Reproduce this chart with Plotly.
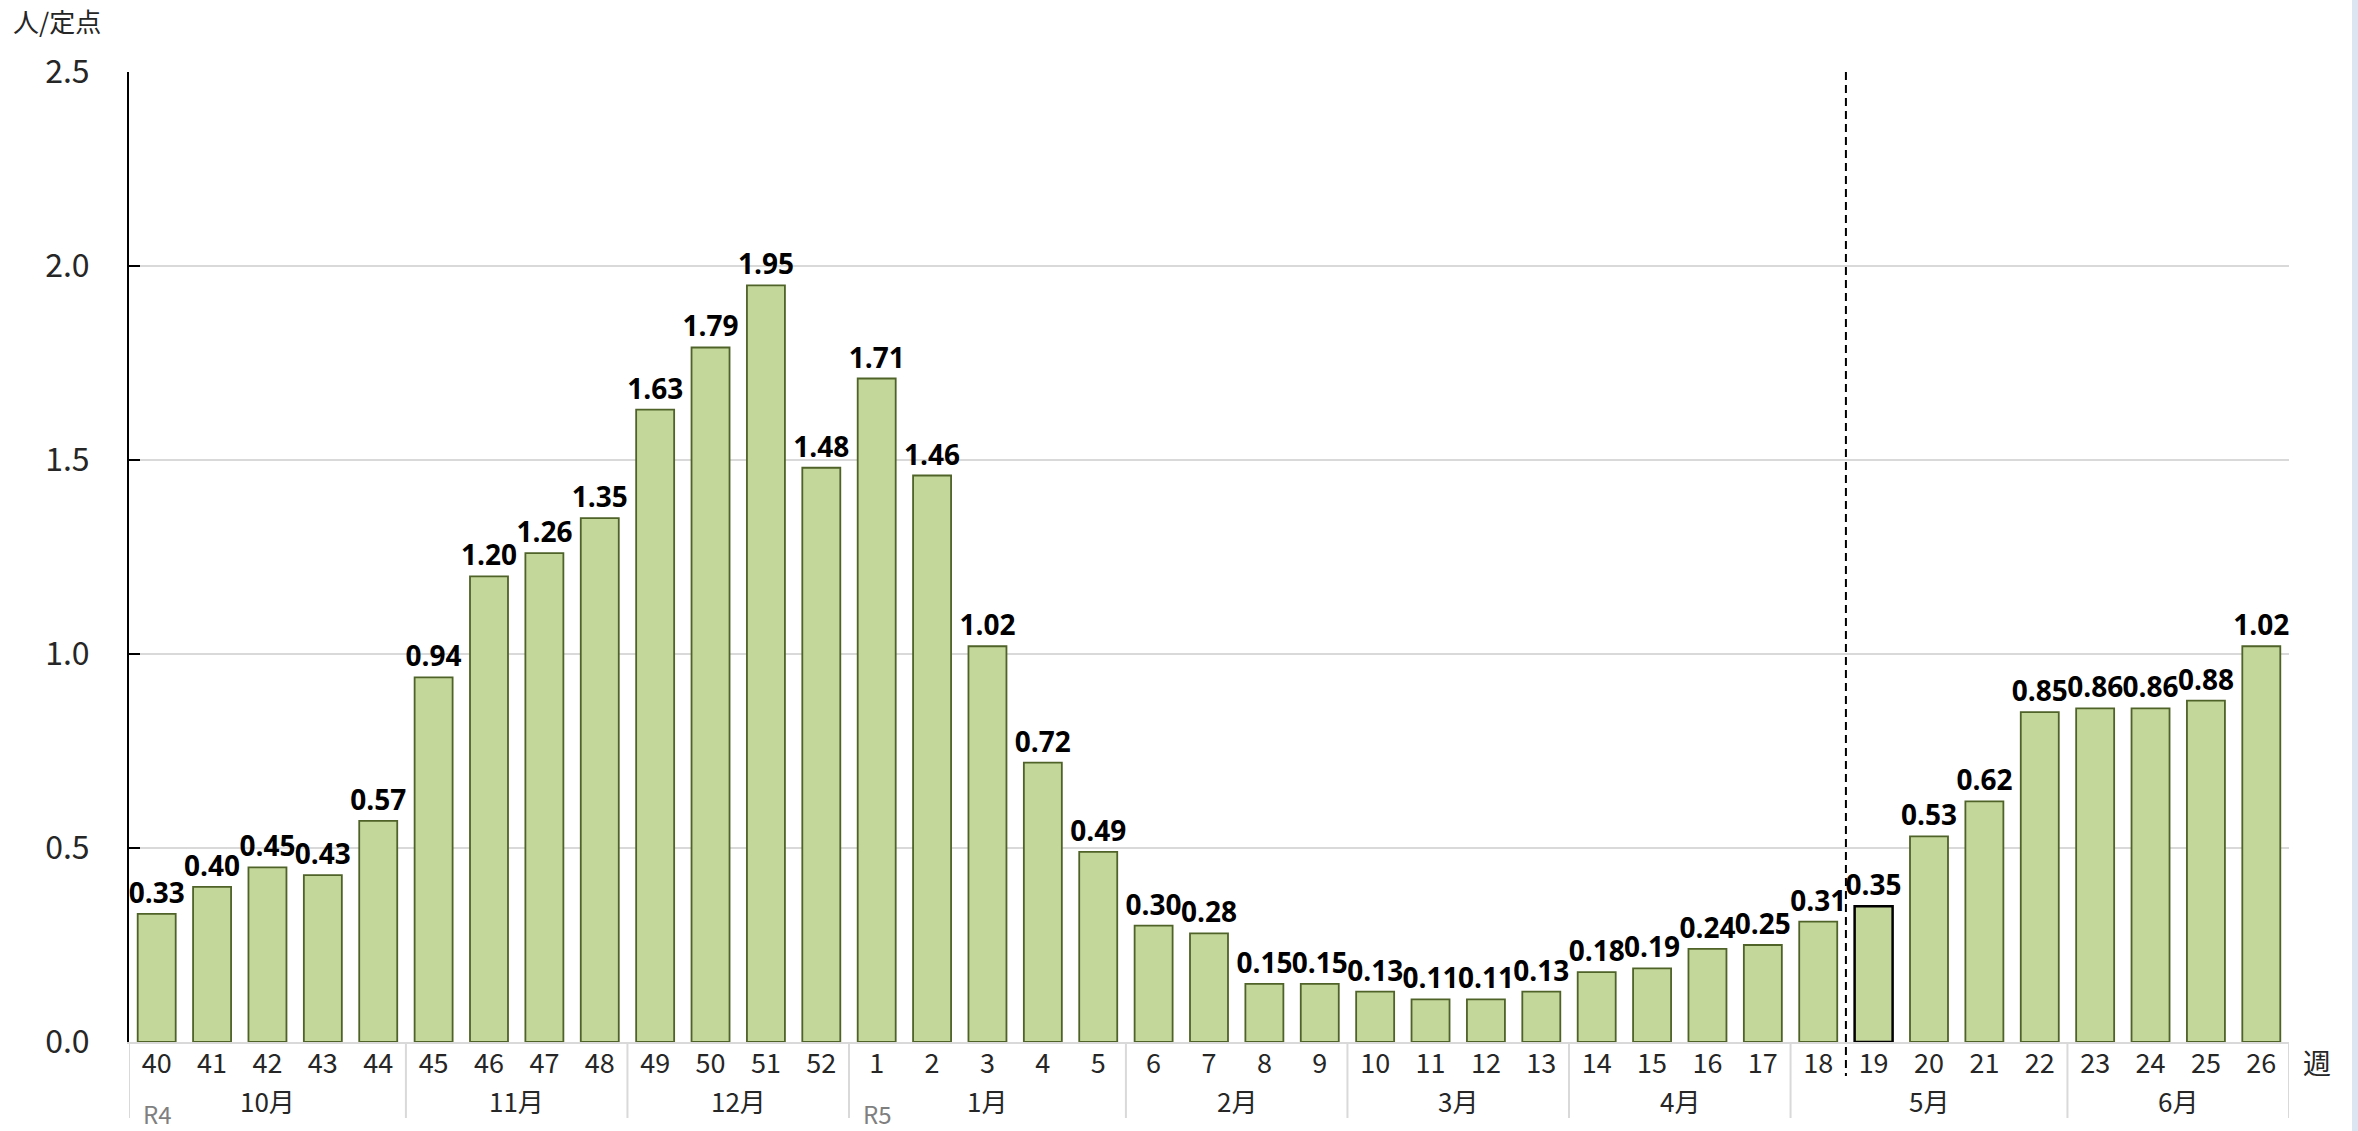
import plotly.graph_objects as go

weeks = ["40", "41", "42", "43", "44", "45", "46", "47", "48", "49", "50", "51", "52",
         "1", "2", "3", "4", "5", "6", "7", "8", "9", "10", "11", "12", "13",
         "14", "15", "16", "17", "18", "19", "20", "21", "22", "23", "24", "25", "26"]
values = [0.33, 0.40, 0.45, 0.43, 0.57, 0.94, 1.20, 1.26, 1.35, 1.63, 1.79, 1.95, 1.48,
          1.71, 1.46, 1.02, 0.72, 0.49, 0.30, 0.28, 0.15, 0.15, 0.13, 0.11, 0.11, 0.13,
          0.18, 0.19, 0.24, 0.25, 0.31, 0.35, 0.53, 0.62, 0.85, 0.86, 0.86, 0.88, 1.02]
months = ["10月", "11月", "12月", "1月", "2月", "3月", "4月", "5月", "6月"]
month_sizes = [5, 4, 4, 5, 4, 4, 4, 5, 4]
year_labels = [("R4", 0), ("R5", 13)]  # label, index of first week of year
highlight_week = "19"

W, H = 2358, 1131
L, R, T, B = 129, 69, 72, 89
PW, PH = W - L - R, H - T - B

def py(px):  # pixel y -> paper y
    return (H - B - px) / PH

def pxx(px):  # pixel x -> paper x
    return (px - L) / PW

TXT = "#262626"
CJK = "Noto Sans CJK JP"

line_colors = ["#000000" if w == highlight_week else "#4F6228" for w in weeks]
line_widths = [2.5 if w == highlight_week else 1.8 for w in weeks]

fig = go.Figure()
fig.add_trace(go.Bar(
    x=list(range(len(weeks))), y=values,
    marker=dict(color="#C4D79B", line=dict(color=line_colors, width=line_widths)),
    text=[f"{v:.2f}" for v in values], textposition="outside",
    textfont=dict(family="Open Sans", size=28, color="#000000", weight="bold"),
    constraintext="none", cliponaxis=False, hoverinfo="skip",
))

shapes = []
annotations = []

# month group separators and labels
start = 0
bounds = [-0.5]
for m, n in zip(months, month_sizes):
    center = start + (n - 1) / 2
    annotations.append(dict(x=center, y=py(1100), xref="x", yref="paper", text=m,
                            showarrow=False, xanchor="center", yanchor="middle",
                            font=dict(family=CJK, size=26, color=TXT)))
    start += n
    bounds.append(start - 0.5)
for b in bounds:
    shapes.append(dict(type="line", xref="x", yref="paper", x0=b, x1=b,
                       y0=0, y1=py(1118), line=dict(color="#D9D9D9", width=2)))

for lab, idx in year_labels:
    annotations.append(dict(x=idx - 0.5, y=py(1113), xref="x", yref="paper", text=lab,
                            showarrow=False, xanchor="left", yanchor="middle", xshift=12,
                            font=dict(family=CJK, size=24, color="#7F7F7F")))

# dashed divider between week 18 and 19
div_idx = weeks.index(highlight_week) - 0.5
shapes.append(dict(type="line", xref="x", yref="paper", x0=div_idx, x1=div_idx,
                   y0=1, y1=py(1076), line=dict(color="#000000", width=2, dash="8px,5px")))

# right edge strip
shapes.append(dict(type="rect", xref="paper", yref="paper", x0=pxx(2352), x1=pxx(2360),
                   y0=py(H + 2), y1=py(-2), fillcolor="#DCE6F2", line=dict(width=0), layer="above"))

annotations.append(dict(x=pxx(11), y=py(21), xref="paper", yref="paper", text="人/定点",
                        showarrow=False, xanchor="left", yanchor="middle",
                        font=dict(family=CJK, size=26, color=TXT)))
annotations.append(dict(x=pxx(2317), y=py(1062), xref="paper", yref="paper", text="週",
                        showarrow=False, xanchor="center", yanchor="middle",
                        font=dict(family=CJK, size=28, color=TXT)))

fig.update_layout(
    width=W, height=H,
    margin=dict(l=L, r=R, t=T, b=B),
    paper_bgcolor="white", plot_bgcolor="white",
    bargap=0.314, showlegend=False,
    shapes=shapes, annotations=annotations,
    xaxis=dict(
        tickmode="array", tickvals=list(range(len(weeks))), ticktext=weeks,
        range=[-0.5, len(weeks) - 0.5],
        showgrid=False, showline=True, linecolor="#D9D9D9", linewidth=2,
        ticks="", tickfont=dict(family=CJK, size=27, color=TXT),
        ticklabelstandoff=-3, zeroline=False,
    ),
    yaxis=dict(
        range=[0, 2.5], tickvals=[0, 0.5, 1.0, 1.5, 2.0, 2.5],
        ticktext=["0.0", "0.5", "1.0", "1.5", "2.0", "2.5"],
        showgrid=True, gridcolor="#D9D9D9", gridwidth=2,
        showline=True, linecolor="#000000", linewidth=2,
        ticks="inside", ticklen=11, tickwidth=2, tickcolor="#000000",
        tickfont=dict(family=CJK, size=32, color=TXT),
        ticklabelstandoff=31, zeroline=False,
    ),
)

fig.write_html("out.html", config={"displayModeBar": False},
               post_script="document.body.style.margin='0';")
